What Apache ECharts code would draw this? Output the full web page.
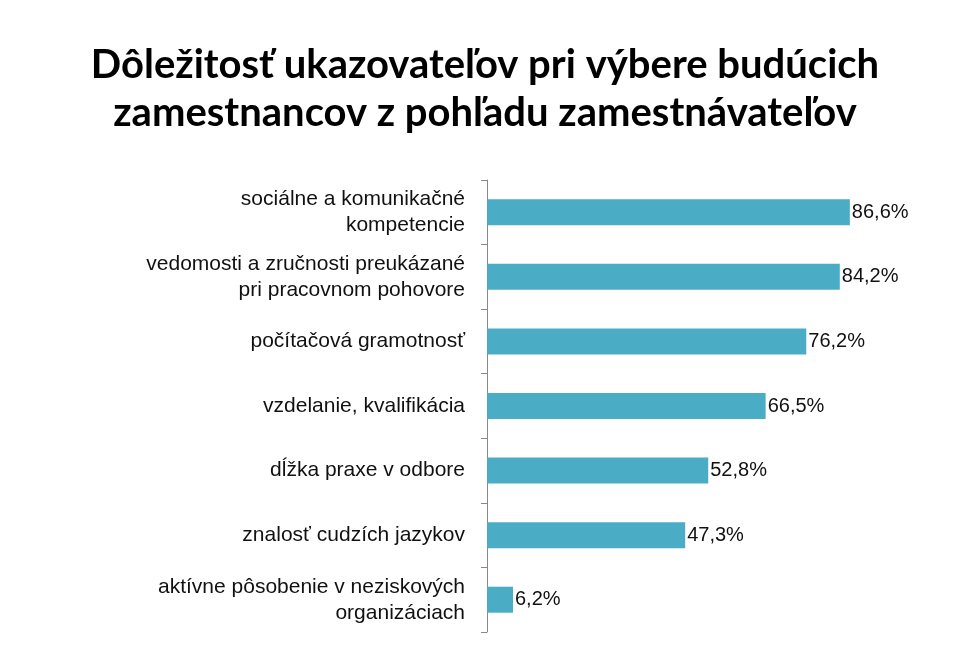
<!DOCTYPE html>
<html>
<head>
<meta charset="utf-8">
<script src="https://cdn.jsdelivr.net/npm/echarts@6/dist/echarts.min.js"></script>
<style>html,body{margin:0;background:#fff}#c{width:970px;height:667px}</style>
</head>
<body>
<div id="c"></div>
<script>
// data
const categories = [
    'sociálne a komunikačné\nkompetencie',
    'vedomosti a zručnosti preukázané\npri pracovnom pohovore',
    'počítačová gramotnosť',
    'vzdelanie, kvalifikácia',
    'dĺžka praxe v odbore',
    'znalosť cudzích jazykov',
    'aktívne pôsobenie v neziskových\norganizáciach'
];
const values = [86.6, 84.2, 76.2, 66.5, 52.8, 47.3, 6.2];

let chart = echarts.init(document.getElementById('c'));
chart.setOption({
    animation: false,
    title: {
        text: 'Dôležitosť ukazovateľov pri výbere budúcich\nzamestnancov z pohľadu zamestnávateľov',
        left: 'center',
        top: 36,
        textStyle: { fontFamily: 'Lato', fontWeight: 'bold', fontSize: 40, lineHeight: 48, color: '#000' }
    },
    grid: { left: 487, right: 64, top: 180, bottom: 35 },
    xAxis: { type: 'value', min: 0, max: 100, show: false },
    yAxis: {
        type: 'category',
        inverse: true,
        data: categories,
        axisLine: { show: true, lineStyle: { color: '#888' } },
        axisTick: { show: true, inside: false, length: 6, lineStyle: { color: '#888' } },
        axisLabel: {
            margin: 22,
            align: 'right',
            fontFamily: 'Liberation Sans',
            fontSize: 21,
            lineHeight: 26,
            color: '#111'
        }
    },
    series: [{
        type: 'bar',
        data: values,
        barWidth: 26,
        itemStyle: { color: '#4BACC6' },
        label: {
            show: true,
            position: 'right',
            distance: 2,
            fontFamily: 'Liberation Sans',
            fontSize: 20,
            color: '#111',
            formatter: p => String(p.value).replace('.', ',') + '%'
        }
    }]
});
</script>
</body>
</html>
